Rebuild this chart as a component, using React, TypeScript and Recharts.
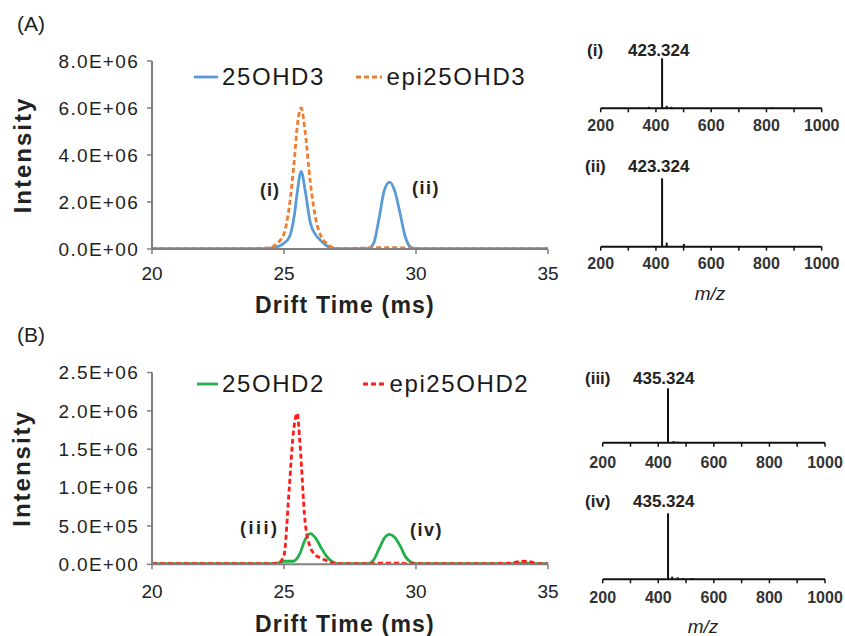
import React from 'react';
import { LineChart, Line, XAxis, YAxis, Legend, BarChart, Bar } from 'recharts';

const FONT = '"Liberation Sans", Arial, Helvetica, sans-serif';
const AXIS = '#808080';
const TXT = '#222';

// ---------- Panel A: drift time (ms) vs intensity (values in 1E6 counts) ----------
const driftTimeA = [20, 21, 22, 23, 24, 24.4, 24.6, 24.8, 25.0, 25.2, 25.4, 25.5, 25.65, 25.8, 26.0, 26.2, 26.4, 26.6, 26.8, 27.0, 27.5, 28.0, 28.2, 28.4, 28.6, 28.8, 29.0, 29.2, 29.4, 29.6, 29.8, 30.0, 31, 32, 33, 34, 35];
const d3Millions = [0.02, 0.02, 0.02, 0.02, 0.02, 0.03, 0.05, 0.12, 0.25, 0.5, 1.5, 2.4, 3.3, 2.5, 1.1, 0.6, 0.35, 0.15, 0.05, 0.02, 0.02, 0.02, 0.03, 0.25, 1.3, 2.5, 2.85, 2.45, 1.5, 0.5, 0.08, 0.02, 0.02, 0.02, 0.02, 0.02, 0.02];
const epiD3Millions = [0.03, 0.03, 0.03, 0.03, 0.03, 0.05, 0.12, 0.3, 0.65, 1.8, 3.9, 5.2, 6.0, 5.0, 2.8, 1.3, 0.55, 0.25, 0.08, 0.03, 0.03, 0.04, 0.05, 0.05, 0.06, 0.06, 0.06, 0.06, 0.05, 0.05, 0.04, 0.03, 0.03, 0.03, 0.03, 0.03, 0.03];

// ---------- Panel B ----------
const driftTimeB = [20, 21, 22, 23, 24, 24.6, 24.8, 25.0, 25.2, 25.35, 25.5, 25.6, 25.8, 26.0, 26.2, 26.4, 26.6, 26.8, 27.0, 27.5, 28.0, 28.2, 28.4, 28.6, 28.8, 29.0, 29.2, 29.4, 29.6, 29.8, 30.0, 31, 32, 33, 33.6, 34.0, 34.3, 34.6, 35];
const d2Millions = [0.01, 0.01, 0.01, 0.01, 0.01, 0.01, 0.02, 0.04, 0.04, 0.04, 0.08, 0.14, 0.32, 0.40, 0.34, 0.22, 0.11, 0.04, 0.01, 0.01, 0.01, 0.01, 0.06, 0.2, 0.34, 0.39, 0.35, 0.24, 0.1, 0.03, 0.01, 0.01, 0.01, 0.01, 0.01, 0.015, 0.015, 0.01, 0.01];
const epiD2Millions = [0.01, 0.01, 0.01, 0.01, 0.01, 0.01, 0.02, 0.12, 1.0, 1.7, 1.97, 1.6, 0.55, 0.22, 0.12, 0.08, 0.05, 0.02, 0.01, 0.01, 0.01, 0.01, 0.01, 0.015, 0.015, 0.015, 0.015, 0.015, 0.01, 0.01, 0.01, 0.01, 0.01, 0.01, 0.015, 0.04, 0.035, 0.01, 0.01];

const driftTicks = [20, 25, 30, 35];
const intensityTicksA = [0, 2e6, 4e6, 6e6, 8e6];
const intensityTicksB = [0, 5e5, 1e6, 1.5e6, 2e6, 2.5e6];

// ---------- Mass spectra (relative intensity %) ----------
const mzTicks = [200, 300, 400, 500, 600, 700, 800, 900, 1000];
const mzI = [375, 423.324, 440, 457, 820];
const relI = [3, 100, 5, 3, 2];
const mzII = [423.324, 440, 502];
const relII = [100, 6, 4];
const mzIII = [435.324, 455, 470];
const relIII = [100, 3, 2];
const mzIV = [435.324, 450, 470, 490, 520];
const relIV = [100, 4, 3, 2, 2];

const dataA = driftTimeA.map((t, i) => ({ t, d3: d3Millions[i] * 1e6, epi3: epiD3Millions[i] * 1e6 }));
const dataB = driftTimeB.map((t, i) => ({ t, d2: d2Millions[i] * 1e6, epi2: epiD2Millions[i] * 1e6 }));
const toSpec = (mz: number[], rel: number[]) => mz.map((m, i) => ({ mz: m, rel: rel[i] }));

const fmtSci = (v: number) => {
  if (v === 0) return '0.0E+00';
  const e = Math.floor(Math.log10(v) + 1e-9);
  const m = v / Math.pow(10, e);
  return `${m.toFixed(1)}E+${e < 10 ? '0' + e : e}`;
};

type SeriesDef = { key: string; name: string; color: string; dash?: string };

const XTick = (p: any) => (
  <text x={p.x} y={p.y} dy="0.71em" textAnchor="middle" fontSize={19} fontFamily={FONT} fill={TXT}>
    {p.payload.value}
  </text>
);
const YTick = (p: any) => (
  <text x={p.x} y={p.y} dy="0.35em" textAnchor="end" fontSize={19} letterSpacing={1.3} fontFamily={FONT} fill={TXT}>
    {fmtSci(p.payload.value)}
  </text>
);

function LegendRow(props: { items: SeriesDef[]; samples: number[]; gap: number }) {
  return (
    <div style={{ display: 'flex', alignItems: 'center', height: 24, fontFamily: FONT, fontSize: 24, letterSpacing: '1.6px', color: '#1a1a1a', lineHeight: '24px', whiteSpace: 'nowrap' }}>
      {props.items.map((it, i) => (
        <div key={it.key} style={{ display: 'flex', alignItems: 'center', marginLeft: i === 0 ? 0 : props.gap }}>
          <svg width={props.samples[i]} height={10} style={{ display: 'block' }}>
            <line x1={0} y1={5} x2={props.samples[i]} y2={5} stroke={it.color} strokeWidth={2.8} strokeDasharray={it.dash} />
          </svg>
          <span style={{ marginLeft: 4 }}>{it.name}</span>
        </div>
      ))}
    </div>
  );
}

function DriftPanel(props: {
  top: number; height: number; plotTop: number; plotBottom: number; data: any[]; series: SeriesDef[];
  yMax: number; yTicks: number[]; xTickMargin: number; xLabelBaseline: number;
  legendLeft: number; legendCenter: number; samples: number[]; gap: number;
}) {
  const W = 575, plotLeft = 152, plotRight = 548;
  const { top } = props;
  const yLabelY = (props.plotTop + props.plotBottom) / 2 - top;
  return (
    <div style={{ position: 'absolute', left: 0, top }}>
      <LineChart width={W} height={props.height} data={props.data}
        margin={{ top: props.plotTop - top, right: W - plotRight, left: 0, bottom: 0 }}>
        <XAxis dataKey="t" type="number" domain={[20, 35]} ticks={driftTicks} interval={0}
          height={top + props.height - props.plotBottom}
          axisLine={{ stroke: AXIS, strokeWidth: 2 }} tickLine={{ stroke: AXIS, strokeWidth: 1.5 }}
          tickSize={5} tickMargin={props.xTickMargin} tick={XTick}
          label={() => (
            <text x={345} y={props.xLabelBaseline - top} textAnchor="middle" fontSize={23} fontWeight="bold"
              letterSpacing={1.2} fontFamily={FONT} fill={TXT}>Drift Time (ms)</text>
          )} />
        <YAxis type="number" domain={[0, props.yMax]} ticks={props.yTicks} interval={0} width={plotLeft}
          axisLine={{ stroke: AXIS, strokeWidth: 2 }} tickLine={{ stroke: AXIS, strokeWidth: 1.5 }}
          tickSize={5} tickMargin={8} tick={YTick}
          label={() => (
            <text x={22} y={yLabelY} transform={`rotate(-90 22 ${yLabelY})`} textAnchor="middle"
              dominantBaseline="central" fontSize={24} fontWeight="bold" letterSpacing={2}
              fontFamily={FONT} fill={TXT}>Intensity</text>
          )} />
        <Legend verticalAlign="middle" align="center" layout="horizontal"
          wrapperStyle={{ left: props.legendLeft, top: props.legendCenter - top - 12, width: 380 }}
          content={() => <LegendRow items={props.series} samples={props.samples} gap={props.gap} />} />
        {props.series.map((s) => (
          <Line key={s.key} dataKey={s.key} name={s.name} type="monotone" stroke={s.color} strokeWidth={2.8}
            strokeDasharray={s.dash} dot={false} activeDot={false} isAnimationActive={false} />
        ))}
      </LineChart>
    </div>
  );
}

function SpecPanel(props: { top: number; height: number; plotLeft: number; plotRight: number; plotTop: number; axisY: number; data: any[]; tickMargin: number }) {
  const left = 560, W = 285;
  const MzTick = (p: any) =>
    p.payload.value % 200 === 0 ? (
      <text x={p.x} y={p.y} dy="0.71em" textAnchor="middle" fontSize={16} fontWeight="bold" fontFamily={FONT} fill="#333">
        {p.payload.value}
      </text>
    ) : <g />;
  return (
    <div style={{ position: 'absolute', left, top: props.top }}>
      <BarChart width={W} height={props.height} data={props.data} barSize={2}
        margin={{ top: props.plotTop - props.top, left: props.plotLeft - left, right: left + W - props.plotRight, bottom: 0 }}>
        <XAxis dataKey="mz" type="number" domain={[200, 1000]} ticks={mzTicks} interval={0}
          height={props.top + props.height - props.axisY}
          axisLine={{ stroke: '#111', strokeWidth: 2 }} tickLine={{ stroke: '#111', strokeWidth: 1.5 }}
          tickSize={4} tickMargin={props.tickMargin} tick={MzTick} />
        <YAxis hide domain={[0, 100]} />
        <Bar dataKey="rel" fill="#111" isAnimationActive={false} />
      </BarChart>
    </div>
  );
}

const seriesA: SeriesDef[] = [
  { key: 'd3', name: '25OHD3', color: '#5B9BD5' },
  { key: 'epi3', name: 'epi25OHD3', color: '#ED7D31', dash: '5 3' },
];
const seriesB: SeriesDef[] = [
  { key: 'd2', name: '25OHD2', color: '#22B04B' },
  { key: 'epi2', name: 'epi25OHD2', color: '#FF1A1A', dash: '5 3' },
];

export default function App() {
  const b = { fontFamily: FONT, fill: TXT, fontWeight: 'bold' as const };
  return (
    <div style={{ position: 'absolute', left: 0, top: 0, width: 845, height: 636, background: '#fff', overflow: 'hidden' }}>
      <DriftPanel top={0} height={322} plotTop={61} plotBottom={249} data={dataA} series={seriesA}
        yMax={8e6} yTicks={intensityTicksA} xTickMargin={13} xLabelBaseline={313}
        legendLeft={194} legendCenter={76.5} samples={[24, 26]} gap={31.5} />
      <DriftPanel top={310} height={326} plotTop={372.5} plotBottom={564.3} data={dataB} series={seriesB}
        yMax={2.5e6} yTicks={intensityTicksB} xTickMargin={15.5} xLabelBaseline={632}
        legendLeft={197} legendCenter={383.5} samples={[21, 22]} gap={38.5} />

      <SpecPanel top={30} height={110} plotLeft={600.7} plotRight={821.7} plotTop={58.3} axisY={108.3} data={toSpec(mzI, relI)} tickMargin={7.7} />
      <SpecPanel top={140} height={140} plotLeft={600.7} plotRight={821.7} plotTop={178.3} axisY={246.7} data={toSpec(mzII, relII)} tickMargin={7.3} />
      <SpecPanel top={340} height={140} plotLeft={602.7} plotRight={825} plotTop={388.3} axisY={442.7} data={toSpec(mzIII, relIII)} tickMargin={10} />
      <SpecPanel top={480} height={150} plotLeft={602.7} plotRight={825} plotTop={513.3} axisY={579.3} data={toSpec(mzIV, relIV)} tickMargin={8.7} />

      <svg width={845} height={636} style={{ position: 'absolute', left: 0, top: 0, pointerEvents: 'none' }}>
        <text x={17} y={31} fontSize={21} fontFamily={FONT} fill={TXT}>(A)</text>
        <text x={17} y={342} fontSize={21} fontFamily={FONT} fill={TXT}>(B)</text>

        <text x={260} y={196} fontSize={18} letterSpacing={1} {...b}>(i)</text>
        <text x={412} y={194} fontSize={18} letterSpacing={1.5} {...b}>(ii)</text>
        <text x={240} y={534} fontSize={18} letterSpacing={2.5} {...b}>(iii)</text>
        <text x={410} y={536} fontSize={18} letterSpacing={1.5} {...b}>(iv)</text>

        <text x={587} y={56} fontSize={17} {...b}>(i)</text>
        <text x={628} y={56} fontSize={17} {...b}>423.324</text>
        <text x={585} y={172} fontSize={17} {...b}>(ii)</text>
        <text x={628} y={172} fontSize={17} {...b}>423.324</text>
        <text x={585} y={383.5} fontSize={17} {...b}>(iii)</text>
        <text x={633} y={383.5} fontSize={17} {...b}>435.324</text>
        <text x={585} y={507} fontSize={17} {...b}>(iv)</text>
        <text x={633} y={507} fontSize={17} {...b}>435.324</text>

        <text x={710} y={300} fontSize={19} fontStyle="italic" textAnchor="middle" fontFamily={FONT} fill={TXT}>m/z</text>
        <text x={703} y={633} fontSize={19} fontStyle="italic" textAnchor="middle" fontFamily={FONT} fill={TXT}>m/z</text>
      </svg>
    </div>
  );
}
